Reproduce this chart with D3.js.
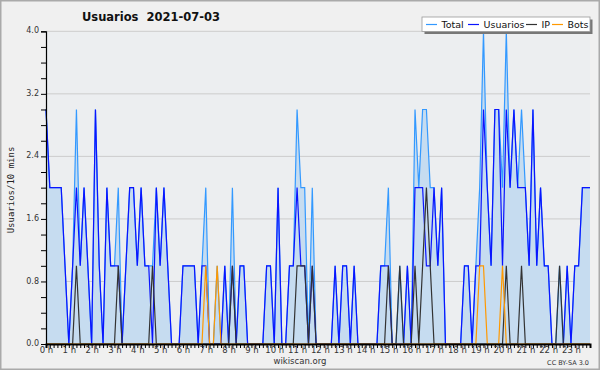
<!DOCTYPE html>
<html>
<head>
<meta charset="utf-8">
<script src="https://cdn.jsdelivr.net/npm/d3@7"></script>
<style>
  html, body { margin: 0; padding: 0; background: #f0f0f0; }
  svg { display: block; }
</style>
</head>
<body>
<svg id="chart" width="600" height="370"></svg>
<script>
// Values per 10-minute slot (144 slots, 00:00 .. 23:50).
const usuarios = [
  3, 2, 2, 2, 2, 1, 0, 1, 2, 1, 2, 1, 0, 3, 1, 0, 2, 1, 1, 1, 0, 1, 2, 2,
  1, 2, 1, 1, 0, 2, 1, 2, 1, 0, 0, 0, 1, 1, 1, 1, 0, 1, 1, 0, 0, 0, 0, 1,
  0, 1, 0, 1, 1, 0, 0, 0, 0, 0, 1, 1, 0, 2, 0, 0, 1, 1, 2, 1, 1, 0, 1, 0,
  0, 0, 0, 0, 1, 0, 1, 1, 0, 1, 0, 0, 0, 0, 0, 0, 1, 1, 1, 0, 0, 0, 0, 1,
  0, 2, 2, 2, 1, 1, 2, 1, 2, 0, 0, 0, 0, 0, 1, 1, 0, 1, 1, 3, 2, 1, 3, 3,
  1, 3, 2, 3, 2, 2, 2, 1, 3, 1, 2, 1, 1, 0, 0, 0, 0, 1, 0, 1, 1, 2, 2, 2
];
const ip = [
  0, 0, 0, 0, 0, 0, 0, 0, 1, 0, 0, 0, 0, 0, 0, 0, 0, 0, 0, 1, 0, 0, 0, 0,
  0, 0, 0, 0, 1, 0, 0, 0, 0, 0, 0, 0, 0, 0, 0, 0, 0, 0, 0, 0, 0, 0, 0, 0,
  0, 1, 0, 0, 0, 0, 0, 0, 0, 0, 0, 0, 0, 0, 0, 0, 0, 0, 1, 1, 1, 0, 1, 0,
  0, 0, 0, 0, 0, 0, 0, 0, 0, 0, 0, 0, 0, 0, 0, 0, 0, 0, 1, 0, 0, 1, 0, 0,
  0, 1, 0, 1, 2, 1, 0, 0, 0, 0, 0, 0, 0, 0, 0, 0, 0, 0, 0, 0, 0, 0, 0, 0,
  0, 1, 0, 0, 0, 1, 0, 0, 0, 0, 0, 0, 0, 0, 0, 1, 0, 0, 0, 0, 0, 0, 0, 0
];
const bots = [
  0, 0, 0, 0, 0, 0, 0, 0, 0, 0, 0, 0, 0, 0, 0, 0, 0, 0, 0, 0, 0, 0, 0, 0,
  0, 0, 0, 0, 0, 0, 0, 0, 0, 0, 0, 0, 0, 0, 0, 0, 0, 0, 1, 0, 0, 1, 0, 0,
  0, 0, 0, 0, 0, 0, 0, 0, 0, 0, 0, 0, 0, 0, 0, 0, 0, 0, 0, 0, 0, 0, 0, 0,
  0, 0, 0, 0, 0, 0, 0, 0, 0, 0, 0, 0, 0, 0, 0, 0, 0, 0, 0, 0, 0, 0, 0, 0,
  0, 0, 0, 0, 0, 0, 0, 0, 0, 0, 0, 0, 0, 0, 0, 0, 0, 0, 1, 1, 0, 0, 0, 0,
  1, 0, 0, 0, 0, 0, 0, 0, 0, 0, 0, 0, 0, 0, 0, 0, 0, 0, 0, 0, 0, 0, 0, 0
];
// Total is the sum of the three.
const total = usuarios.map((u, i) => u + ip[i] + bots[i]);

const yTicks = [0, 0.8, 1.6, 2.4, 3.2, 4.0];
const hourLabels = d3.range(24).map((h) => `${h} h`);
const legendItems = [
  { name: 'Total', color: '#3399ff' },
  { name: 'Usuarios', color: '#0a14ff' },
  { name: 'IP', color: '#333333' },
  { name: 'Bots', color: '#ff9900' },
];

const W = 600, H = 370;
const plotLeft = 46, plotRight = 590, plotTop = 31.3, plotBottom = 344;

const svg = d3.select('#chart');

// outer frame
svg.append('rect')
  .attr('x', 0.75).attr('y', 0.75).attr('width', W - 1.5).attr('height', H - 1.5)
  .attr('fill', '#f0f0f0').attr('stroke', '#aaaaaa').attr('stroke-width', 1.5);

const x = d3.scaleLinear().domain([0, total.length - 1]).range([plotLeft, plotRight]);
const y = d3.scaleLinear().domain([0, 4]).range([plotBottom, plotTop]);

// plot background + grid
svg.append('rect')
  .attr('x', plotLeft).attr('y', plotTop)
  .attr('width', plotRight - plotLeft).attr('height', plotBottom - plotTop)
  .attr('fill', '#eceef0');

svg.append('g')
  .selectAll('line')
  .data(yTicks.slice(1))
  .join('line')
  .attr('x1', plotLeft).attr('x2', plotRight)
  .attr('y1', (d) => y(d)).attr('y2', (d) => y(d))
  .attr('stroke', '#cccccc').attr('stroke-width', 1);

// series
const idx = d3.range(total.length);
const area = d3.area().x((i) => x(i)).y0(y(0)).y1((i) => y(total[i]));
svg.append('path').datum(idx).attr('d', area).attr('fill', '#c6dcf0');

function drawLine(values, color) {
  const line = d3.line().x((i) => x(i)).y((i) => y(values[i]));
  svg.append('path').datum(idx).attr('d', line)
    .attr('fill', 'none').attr('stroke', color).attr('stroke-width', 1.2)
    .attr('stroke-linejoin', 'miter');
}
drawLine(total, legendItems[0].color);
drawLine(usuarios, legendItems[1].color);
drawLine(ip, legendItems[2].color);
drawLine(bots, legendItems[3].color);

// y axis
const yAxis = d3.axisLeft(y)
  .tickValues(d3.range(0, 4.01, 0.2))
  .tickSize(5)
  .tickFormat((d) => (yTicks.some((t) => Math.abs(t - d) < 1e-6) ? d.toFixed(1) : ''));
const gy = svg.append('g').attr('transform', `translate(${plotLeft},0)`).call(yAxis);
gy.select('.domain').attr('stroke', '#000').attr('stroke-width', 1.2);
gy.selectAll('.tick line').attr('stroke', '#000');
gy.selectAll('.tick text')
  .attr('font-family', 'DejaVu Sans').attr('font-size', 8).attr('fill', '#333')
  .attr('dx', 1).attr('dy', '0.2em');

// x axis: minor tick every slot, labels every hour
const xAxis = d3.axisBottom(x)
  .tickValues(d3.range(0, 144, 1))
  .tickSize(4)
  .tickFormat((d) => (d % 6 === 0 ? hourLabels[d / 6] : ''));
const gx = svg.append('g').attr('transform', `translate(0,${plotBottom})`).call(xAxis);
gx.select('.domain').attr('stroke', '#000').attr('stroke-width', 2);
gx.selectAll('.tick line').attr('stroke', '#000');
gx.selectAll('.tick text')
  .attr('font-family', 'DejaVu Sans').attr('font-size', 8.5).attr('fill', '#333')
  .attr('dy', '0.25em');

// title (two spaces kept)
svg.append('text')
  .attr('x', 151).attr('y', 21)
  .attr('text-anchor', 'middle')
  .style('white-space', 'pre')
  .attr('font-family', 'DejaVu Sans').attr('font-weight', 'bold').attr('font-size', 11.5)
  .attr('fill', '#111')
  .text('Usuarios  2021-07-03');

// y label
svg.append('text')
  .attr('transform', 'translate(14,190) rotate(-90)')
  .attr('text-anchor', 'middle')
  .attr('font-family', 'DejaVu Sans Mono').attr('font-size', 9)
  .attr('fill', '#222')
  .text('Usuarios/10 mins');

// footer
svg.append('text')
  .attr('x', 300).attr('y', 364).attr('text-anchor', 'middle')
  .attr('font-family', 'DejaVu Sans').attr('font-size', 8.5).attr('fill', '#333')
  .text('wikiscan.org');
svg.append('text')
  .attr('x', 589).attr('y', 365).attr('text-anchor', 'end')
  .attr('font-family', 'DejaVu Sans').attr('font-size', 6.5).attr('fill', '#333')
  .text('CC BY-SA 3.0');

// legend
const lg = svg.append('g');
lg.append('rect').attr('x', 424.5).attr('y', 19.5).attr('width', 168).attr('height', 14.5)
  .attr('fill', '#777');
lg.append('rect').attr('x', 422).attr('y', 17).attr('width', 168).attr('height', 14.5)
  .attr('fill', '#fff').attr('stroke', '#999').attr('stroke-width', 0.8);
const legendX = [426, 468, 526, 552];
legendItems.forEach((item, k) => {
  lg.append('line')
    .attr('x1', legendX[k]).attr('x2', legendX[k] + 11)
    .attr('y1', 24.5).attr('y2', 24.5)
    .attr('stroke', item.color).attr('stroke-width', 1.2);
  lg.append('text')
    .attr('x', legendX[k] + 15.5).attr('y', 28.3)
    .attr('font-family', 'DejaVu Sans').attr('font-size', 9.5).attr('fill', '#111')
    .text(item.name);
});
</script>
</body>
</html>
